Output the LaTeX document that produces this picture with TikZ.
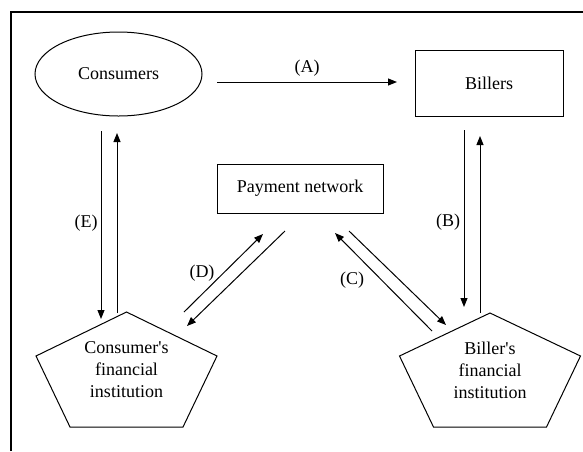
\documentclass[tikz,border=0pt]{standalone}
\usepackage{fontspec}
\setmainfont{Liberation Serif}
\usetikzlibrary{shapes.geometric,arrows.meta,calc}

\tikzset{
  lbl/.style={font=\fontsize{18}{22}\selectfont, inner sep=0pt},
  boxnode/.style={draw, line width=1pt, font=\fontsize{18}{22}\selectfont, inner sep=0pt},
  flow/.style={line width=1pt, -{Triangle[length=9pt,width=7pt]}},
  pent/.style={draw, line width=1pt, line join=miter},
  frame/.style={line width=1.4pt}
}

\begin{document}
\begin{tikzpicture}[x=1pt,y=-1pt]
  \useasboundingbox (0,0) rectangle (583,451);

  % outer frame (open to the right and bottom)
  \draw[frame] (11,451) -- (11,12) -- (583,12);

  % parties
  \node[boxnode, ellipse, minimum width=167pt, minimum height=84pt] (cons) at (118.5,74) {Consumers};
  \node[boxnode, rectangle, minimum width=148pt, minimum height=66pt] (bill) at (489,83) {Billers};
  \node[boxnode, rectangle, minimum width=166pt, minimum height=49pt] (net) at (300,188.5) {Payment network};

  % financial institutions: pentagons with centred labels
  \node[lbl, align=center] (cfi) at (126.5,370) {Consumer\textquotesingle s\\financial\\institution};
  \draw[pent] ($(cfi)+(0,-58)$) -- ($(cfi)+(90.5,-14)$) -- ($(cfi)+(56.5,57)$)
              -- ($(cfi)+(-56.5,57)$) -- ($(cfi)+(-90.5,-14)$) -- cycle;
  \node[lbl, align=center] (bfi) at (490,370) {Biller\textquotesingle s\\financial\\institution};
  \draw[pent] ($(bfi)+(0,-57)$) -- ($(bfi)+(90.5,-14)$) -- ($(bfi)+(56.5,57)$)
              -- ($(bfi)+(-56.5,57)$) -- ($(bfi)+(-90.5,-14)$) -- cycle;

  % connector end points
  \coordinate (aS) at (217,82);   \coordinate (aE) at (397,82);
  \coordinate (eDs) at (101,131); \coordinate (eDe) at (101,319);
  \coordinate (eUs) at (117,313); \coordinate (eUe) at (117,133);
  \coordinate (bDs) at (464,130); \coordinate (bDe) at (464,307);
  \coordinate (bUs) at (480,313); \coordinate (bUe) at (480,136);
  \coordinate (dUs) at (184,312); \coordinate (dUe) at (263,234);
  \coordinate (dDs) at (285,231); \coordinate (dDe) at (187,326);
  \coordinate (cUs) at (432,331); \coordinate (cUe) at (335,233);
  \coordinate (cDs) at (349,231); \coordinate (cDe) at (446,325);

  % flows
  \draw[flow] (aS) -- (aE);
  \draw[flow] (eDs) -- (eDe);
  \draw[flow] (eUs) -- (eUe);
  \draw[flow] (bDs) -- (bDe);
  \draw[flow] (bUs) -- (bUe);
  \draw[flow] (dUs) -- (dUe);
  \draw[flow] (dDs) -- (dDe);
  \draw[flow] (cUs) -- (cUe);
  \draw[flow] (cDs) -- (cDe);

  % flow labels
  \node[lbl] (la) at (307,68) {(A)};
  \node[lbl] (le) at (86,223) {(E)};
  \node[lbl] (lb) at (448,222) {(B)};
  \node[lbl] (ld) at (202,273) {(D)};
  \node[lbl] (lc) at (352,280) {(C)};
\end{tikzpicture}
\end{document}
